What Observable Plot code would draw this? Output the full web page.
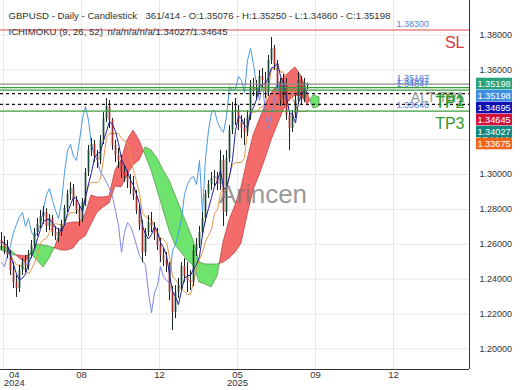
<!DOCTYPE html>
<html><head><meta charset="utf-8">
<script src="https://cdn.jsdelivr.net/npm/d3@7"></script>
<script src="https://cdn.jsdelivr.net/npm/@observablehq/plot@0.6"></script>
<style>
html,body{margin:0;padding:0;background:#fff;}
#chart{width:520px;height:390px;}
</style>
</head><body><div id="chart"></div>
<script>
// ---------- DATA ----------
const opens=[1.2622,1.2599,1.2576,1.2536,1.2449,1.2381,1.2346,1.2449,1.2495,1.2472,
1.2536,1.2593,1.2668,1.2714,1.2759,1.2782,1.2702,1.2748,1.2668,1.2645,
1.2668,1.2714,1.2805,1.2886,1.2920,1.2851,1.2794,1.2748,1.2840,1.3012,
1.3138,1.3173,1.3104,1.3081,1.3196,1.3322,1.3391,1.3311,1.3167,1.3110,
1.3081,1.3012,1.2989,1.2955,1.2920,1.2874,1.2794,1.2708,1.2553,1.2668,
1.2725,1.2702,1.2656,1.2593,1.2536,1.2507,1.2478,1.2323,1.2208,1.2323,
1.2363,1.2472,1.2415,1.2392,1.2381,1.2564,1.2599,1.2668,1.2748,1.2886,
1.2943,1.2978,1.2989,1.2943,1.3081,1.2782,1.3092,1.3253,1.3356,1.3368,
1.3299,1.3265,1.3242,1.3334,1.3506,1.3483,1.3494,1.3563,1.3540,1.3471,
1.3655,1.3724,1.3632,1.3517,1.3425,1.3529,1.3339,1.3265,1.3345,1.3425,
1.3540,1.3437,1.35076];
const highs=[1.2668,1.2645,1.2622,1.2564,1.2495,1.2421,1.2478,1.2518,1.2536,1.2564,
1.2622,1.2691,1.2748,1.2794,1.2817,1.2805,1.2771,1.2765,1.2702,1.2691,
1.2737,1.2823,1.2909,1.2955,1.2943,1.2874,1.2828,1.2863,1.3035,1.3167,
1.3207,1.3196,1.3139,1.3224,1.3356,1.3437,1.3425,1.3322,1.3196,1.3150,
1.3110,1.3053,1.3024,1.3001,1.2989,1.2909,1.2823,1.2737,1.2691,1.2765,
1.2782,1.2725,1.2691,1.2633,1.2576,1.2553,1.2495,1.2358,1.2363,1.2404,
1.2495,1.2518,1.2495,1.2449,1.2593,1.2633,1.2702,1.2782,1.2909,1.2966,
1.3012,1.3024,1.3012,1.3139,1.3110,1.3139,1.3282,1.3414,1.3437,1.3397,
1.3339,1.3322,1.3368,1.3540,1.3552,1.3540,1.3598,1.3609,1.3586,1.3684,
1.3787,1.3741,1.3655,1.3552,1.3575,1.3552,1.3356,1.3368,1.3454,1.3586,
1.3563,1.3552,1.35250];
const lows=[1.2564,1.2541,1.2518,1.2421,1.2346,1.2295,1.2323,1.2421,1.2438,1.2450,
1.2518,1.2576,1.2645,1.2691,1.2714,1.2668,1.2679,1.2645,1.2622,1.2610,
1.2645,1.2702,1.2782,1.2852,1.2817,1.2771,1.2702,1.2725,1.2817,1.2989,
1.3104,1.3069,1.3035,1.3058,1.3173,1.3299,1.3265,1.3139,1.3069,1.3035,
1.2978,1.2955,1.2920,1.2886,1.2852,1.2771,1.2679,1.2495,1.2530,1.2645,
1.2668,1.2622,1.2564,1.2495,1.2472,1.2438,1.2277,1.2105,1.2174,1.2289,
1.2335,1.2381,1.2323,1.2335,1.2358,1.2530,1.2576,1.2645,1.2725,1.2863,
1.2909,1.2932,1.2909,1.2909,1.2702,1.2759,1.3069,1.3230,1.3282,1.3253,
1.3207,1.3167,1.3219,1.3311,1.3448,1.3425,1.3471,1.3494,1.3437,1.3448,
1.3632,1.3598,1.3494,1.3391,1.3402,1.3311,1.3139,1.3242,1.3322,1.3402,
1.3402,1.3414,1.34860];
const closes=[1.2599,1.2576,1.2536,1.2449,1.2381,1.2346,1.2449,1.2495,1.2472,1.2536,
1.2593,1.2668,1.2714,1.2759,1.2782,1.2702,1.2748,1.2668,1.2645,1.2668,
1.2714,1.2805,1.2886,1.2920,1.2851,1.2794,1.2748,1.2840,1.3012,1.3138,
1.3173,1.3104,1.3081,1.3196,1.3322,1.3391,1.3311,1.3167,1.3110,1.3081,
1.3012,1.2989,1.2955,1.2920,1.2874,1.2794,1.2708,1.2553,1.2668,1.2725,
1.2702,1.2656,1.2593,1.2536,1.2507,1.2478,1.2323,1.2208,1.2323,1.2363,
1.2472,1.2415,1.2392,1.2381,1.2564,1.2599,1.2668,1.2748,1.2886,1.2943,
1.2978,1.2989,1.2943,1.3081,1.2782,1.3092,1.3253,1.3356,1.3368,1.3299,
1.3265,1.3242,1.3334,1.3506,1.3483,1.3494,1.3563,1.3540,1.3471,1.3655,
1.3724,1.3632,1.3517,1.3425,1.3529,1.3339,1.3265,1.3345,1.3425,1.3540,
1.3437,1.3529,1.35198];
const tenkan=[1.2616,1.2604,1.2593,1.2533,1.2484,1.2429,1.2395,1.2406,1.2429,1.2493,
1.2530,1.2570,1.2633,1.2685,1.2731,1.2742,1.2742,1.2725,1.2696,1.2688,
1.2673,1.2716,1.2777,1.2828,1.2869,1.2863,1.2823,1.2788,1.2869,1.2946,
1.3012,1.3098,1.3121,1.3130,1.3196,1.3247,1.3305,1.3288,1.3247,1.3179,
1.3087,1.3053,1.3015,1.2969,1.2937,1.2886,1.2834,1.2702,1.2659,1.2630,
1.2656,1.2702,1.2673,1.2610,1.2582,1.2536,1.2427,1.2329,1.2300,1.2254,
1.2335,1.2404,1.2421,1.2421,1.2458,1.2484,1.2530,1.2656,1.2742,1.2805,
1.2869,1.2932,1.2966,1.3024,1.2920,1.2920,1.2992,1.3087,1.3253,1.3334,
1.3322,1.3282,1.3268,1.3354,1.3385,1.3431,1.3511,1.3517,1.3523,1.3560,
1.3612,1.3618,1.3641,1.3566,1.3523,1.3443,1.3356,1.3345,1.3296,1.3414,
1.3454,1.3494,1.34695];
const kijun=[1.2616,1.2604,1.2593,1.2544,1.2507,1.2481,1.2481,1.2470,1.2458,1.2429,
1.2458,1.2493,1.2536,1.2607,1.2627,1.2633,1.2668,1.2696,1.2719,1.2714,
1.2714,1.2716,1.2759,1.2782,1.2782,1.2782,1.2800,1.2828,1.2869,1.2935,
1.2955,1.2955,1.2955,1.2975,1.3087,1.3213,1.3236,1.3236,1.3236,1.3236,
1.3207,1.3196,1.3173,1.3104,1.3024,1.2960,1.2894,1.2774,1.2759,1.2748,
1.2742,1.2702,1.2659,1.2639,1.2627,1.2610,1.2530,1.2415,1.2398,1.2369,
1.2340,1.2329,1.2312,1.2312,1.2383,1.2461,1.2513,1.2553,1.2616,1.2650,
1.2685,1.2777,1.2800,1.2892,1.2920,1.2920,1.2992,1.3058,1.3069,1.3069,
1.3069,1.3098,1.3253,1.3354,1.3359,1.3359,1.3382,1.3388,1.3414,1.3497,
1.3606,1.3606,1.3612,1.3589,1.3589,1.3549,1.3463,1.3440,1.3397,1.3362,
1.3362,1.3362,1.33675];
// cloud (senkou spans, already shifted forward), one value every 2 bars
const spanA=[1.2587,1.2582,1.2553,1.2518,1.2495,1.2553,1.2599,1.2593,1.2587,1.2576,
1.2564,1.2564,1.2576,1.2622,1.2645,1.2714,1.2782,1.2811,1.2834,1.2932,
1.2926,1.2995,1.3053,1.3081,1.3156,1.3139,1.3092,1.3024,1.2966,1.2880,
1.2794,1.2708,1.2622,1.2495,1.2484,1.2484,1.2484,1.2495,1.2518,1.2553,
1.2604,1.2765,1.2909,1.2995,1.3092,1.3196,1.3282,1.3368,1.3425,1.3454,
1.3448,1.34027,1.3454,1.3443];
const spanB=[1.2564,1.2553,1.2536,1.2536,1.2530,1.2541,1.2507,1.2467,1.2518,1.2587,
1.2691,1.2719,1.2725,1.2725,1.2771,1.2880,1.2869,1.2869,1.2874,1.3024,
1.3081,1.3196,1.3253,1.3196,1.3110,1.3024,1.2909,1.2794,1.2679,1.2593,
1.2553,1.2507,1.2478,1.2381,1.2369,1.2352,1.2415,1.2610,1.2737,1.2823,
1.2926,1.3081,1.3224,1.3311,1.3397,1.3466,1.3511,1.3552,1.3586,1.3615,
1.3563,1.34645,1.3379,1.3391];
const cloudStep=2, chikouShift=7;

const yTicks=[1.20,1.22,1.24,1.26,1.28,1.30,1.32,1.34,1.36,1.38];
const xTickPos=[0.67,26.67,52.67,78.67,104.67,130.67];
const xTickLabels=["04\n2024","08","12","05\n2025","09","12"];

const levelNames=["SL","ALT TP1","TP1","TP2","TP3"];
const levelValues=[1.38300,1.35187,1.34997,1.34847,1.33646];
const currentSpans=[1.34645,1.34027];

const boxValues=[1.35198,1.35198,1.34695,1.34645,1.34027,1.33675];

const titleText="GBPUSD - Daily - Candlestick";
const ohlcText="361/414 - O:1.35076 - H:1.35250 - L:1.34860 - C:1.35198";
const indText="ICHIMOKU (9, 26, 52)";
const indValues="n/a/n/a/n/a/1.34027/1.34645";
const watermark="Arincen";

// ---------- BUILD ----------
const xDomain=[-1/3,156];
const yDomain=[1.18813,1.39992];
const bars=closes.map((c,i)=>({i,o:opens[i],h:highs[i],l:lows[i],c,t:tenkan[i],k:kijun[i]}));

// chikou
const chik=[];
for(let k=chikouShift;k<closes.length;k++) chik.push({u:k-chikouShift,v:closes[k],p:closes[k-chikouShift]});
const chikSegs=[]; let run=0, prevCol=null;
for(let s=0;s<chik.length-1;s++){
  const a=chik[s], b=chik[s+1];
  const col=(a.v+b.v)>=(a.p+b.p)?"up":"dn";
  if(col!==prevCol){run++;prevCol=col;}
  chikSegs.push({...a,run,col},{...b,run,col});
}

// cloud runs split at crossings
const cl=spanA.map((a,j)=>({u:j*cloudStep,a,b:spanB[j]}));
const runs=[]; let cur=null;
const sg=d=>d.a>=d.b?1:-1;
for(let j=0;j<cl.length;j++){
  const p=cl[j], s=sg(p);
  if(!cur){cur={s,pts:[p]};runs.push(cur);continue;}
  if(s===cur.s){cur.pts.push(p);}
  else{
    const q=cl[j-1]; const d0=q.a-q.b, d1=p.a-p.b; const t=d0/(d0-d1);
    const xp={u:q.u+t*(p.u-q.u),a:q.a+t*(p.a-q.a)}; xp.b=xp.a;
    cur.pts.push(xp); cur={s,pts:[xp,p]}; runs.push(cur);
  }
}
const cloudPts=runs.flatMap((r,k)=>r.pts.map(p=>({...p,run:k,s:r.s})));

const levels=levelNames.map((n,k)=>({n,v:levelValues[k],lab:levelValues[k].toFixed(5)}));
const lvColor=n=>n==="SL"?"#e04848":(n==="ALT TP1"?"#8c8c8c":"#3c9c3c");
const lvText=n=>n==="SL"?"#d9363e":(n==="ALT TP1"?"#999999":"#2f9a2f");

const FONT="'Liberation Sans', Arial, sans-serif";

const plot=Plot.plot({
  width:520,height:390,marginLeft:0,marginRight:51,marginTop:0,marginBottom:21,
  style:{fontFamily:FONT,background:"#fff",overflow:"visible"},
  x:{domain:xDomain,axis:null},
  y:{domain:yDomain},
  marks:[
    Plot.gridY(yTicks,{stroke:"#e8e8e8",strokeOpacity:1}),
    Plot.gridX(xTickPos,{stroke:"#e8e8e8",strokeOpacity:1}),
    Plot.areaY(cloudPts,{x:"u",y1:"a",y2:"b",z:"run",
      fill:d=>d.s>0?"#62e262":"#f25e5e",fillOpacity:0.92,
      stroke:d=>d.s>0?"#5a9a50":"#c24242",strokeWidth:0.8}),
    Plot.line(bars,{x:"i",y:"k",stroke:"#e3964c",strokeWidth:1}),
    Plot.line(chikSegs,{x:"u",y:"v",z:"run",stroke:d=>d.col==="up"?"#4a98e6":"#7f84e4",strokeWidth:1}),
    Plot.ruleX(bars,{x:"i",y1:"l",y2:"h",stroke:"#1c2420",strokeWidth:1}),
    Plot.ruleX(bars,{x:"i",y1:"o",y2:"c",stroke:d=>d.c>=d.o?"#184a33":"#9e2c2c",strokeWidth:1.7}),
    Plot.line(bars,{x:"i",y:"t",stroke:"#22229c",strokeWidth:1}),
    Plot.ruleY(levels,{y:"v",stroke:d=>lvColor(d.n),strokeWidth:1.2}),
    Plot.ruleY(currentSpans,{stroke:"#111",strokeWidth:1.2,strokeDasharray:"3,3"}),
    Plot.text([watermark],{frameAnchor:"middle",dx:28,dy:10,fontSize:26,fill:"#777",fillOpacity:0.75}),
    Plot.text(levels,{y:"v",text:"lab",frameAnchor:"right",dx:-73,textAnchor:"start",dy:-6,fill:"#5b82d6",fontSize:9}),
    Plot.text(levels.filter(d=>d.n==="ALT TP1"),{y:"v",text:"n",frameAnchor:"right",dx:-5,textAnchor:"end",dy:13,fill:d=>lvText(d.n),fontSize:14}),
    Plot.text(levels.filter(d=>d.n!=="ALT TP1"),{y:"v",text:"n",frameAnchor:"right",dx:-5,textAnchor:"end",dy:13,fill:d=>lvText(d.n),fontSize:16}),
    Plot.text([titleText],{frameAnchor:"top-left",dx:8,dy:12,fontSize:9.6,fill:"#333",textAnchor:"start"}),
    Plot.text([ohlcText],{frameAnchor:"top-left",dx:145,dy:12,fontSize:9.6,fill:"#333",textAnchor:"start"}),
    Plot.text([indText],{frameAnchor:"top-left",dx:8,dy:28,fontSize:9.6,fill:"#333",textAnchor:"start"}),
    Plot.text([indValues],{frameAnchor:"top-left",dx:107,dy:28,fontSize:9.6,fill:"#333",textAnchor:"start"}),
    Plot.ruleY([yDomain[0]],{stroke:"#333",strokeWidth:1}),
    Plot.ruleX([xDomain[1]],{stroke:"#333",strokeWidth:1}),
    Plot.axisY(yTicks,{anchor:"right",tickSize:0,tickPadding:10,tickFormat:d=>d.toFixed(5),fontSize:9,fill:"#333"}),
    Plot.text(xTickPos.slice(0,1).map((p,k)=>({p,lab:xTickLabels[k]})),{x:"p",text:"lab",frameAnchor:"bottom",dx:10.7,dy:2,lineAnchor:"top",fontSize:9.5,lineHeight:0.9,fill:"#333"}),
    Plot.text(xTickPos.slice(1).map((p,k)=>({p,lab:xTickLabels[k+1]})),{x:"p",text:"lab",frameAnchor:"bottom",dy:2,lineAnchor:"top",fontSize:9.5,lineHeight:0.9,fill:"#333"})
  ]
});

// stacked value boxes on the right axis
const boxColors=["#27a27a","#3d8fe2","#1010b4","#d3123f","#118a84","#f0651a"];
const ys=plot.scale("y");
const g=d3.select(plot).append("g").attr("font-family",FONT);
let prev=-Infinity;
boxValues.forEach((v,k)=>{
  const cy=Math.max(ys.apply(v),prev+12); prev=cy;
  g.append("rect").attr("x",476).attr("y",cy-5.8).attr("width",36).attr("height",11.6).attr("fill",boxColors[k]);
  g.append("text").attr("x",494).attr("y",cy+3.3).attr("text-anchor","middle").attr("font-size",9.2).attr("fill","#fff").text(v.toFixed(5));
});

document.getElementById("chart").appendChild(plot);
</script>
</body></html>
